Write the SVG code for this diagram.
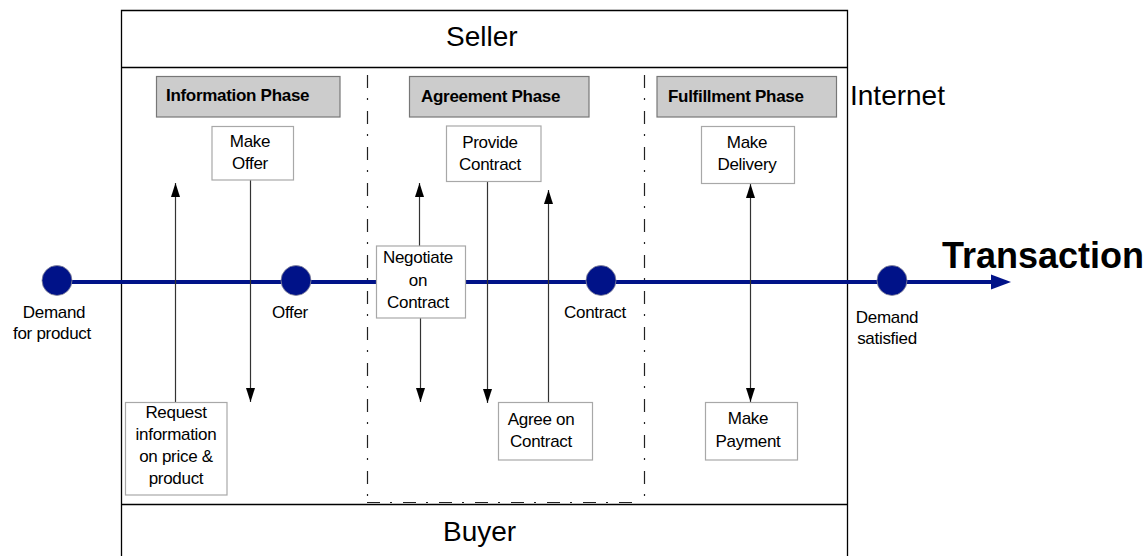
<svg xmlns="http://www.w3.org/2000/svg" width="1148" height="556" viewBox="0 0 1148 556">
<style>
  text { font-family: "Liberation Sans", Arial, sans-serif; fill: #000; }
  .lane { font-size: 28px; }
  .phase-t { font-size: 17px; font-weight: bold; letter-spacing: -0.3px; }
  .node-t { font-size: 17px; text-anchor: middle; letter-spacing: -0.3px; }
  .phase { fill: #cccccc; stroke: #777777; stroke-width: 1.2; }
  .box { fill: #ffffff; stroke: #a8a8a8; stroke-width: 1.2; }
  .frame { fill: none; stroke: #000; stroke-width: 1.3; }
  .divider { fill: none; stroke: #222; stroke-width: 1.2; stroke-dasharray: 13 10 2 11; }
  .conn { fill: none; stroke: #333; stroke-width: 1.2; }
  .dot { fill: #001288; stroke: #8a8a9a; stroke-width: 0.8; }
</style>
<defs>
  <marker id="arr" markerUnits="userSpaceOnUse" markerWidth="14" markerHeight="10" refX="14" refY="4.5" orient="auto-start-reverse" viewBox="0 0 14 9">
    <path d="M0,0 L14,4.5 L0,9 z" fill="#000"/>
  </marker>
</defs>
<rect width="1148" height="556" fill="#ffffff"/>

<!-- frame / swimlanes -->
<g id="frame">
  <path class="frame" d="M121.5,560 V10.5 H847.5 V560"/>
  <line class="frame" x1="121.5" y1="67.5" x2="847.5" y2="67.5"/>
  <line class="frame" x1="121.5" y1="504.5" x2="847.5" y2="504.5"/>
  <path class="divider" d="M367.5,75 V496"/>
  <path class="divider" d="M644.5,75 V496"/>
  <path class="divider" d="M367,502.5 H640"/>
</g>

<g id="lane-seller"><text class="lane" x="446" y="46">Seller</text></g>
<g id="lane-buyer"><text class="lane" x="443" y="541">Buyer</text></g>
<g id="lane-internet"><text class="lane" x="850" y="105">Internet</text></g>

<!-- phase headers -->
<g id="phase-information">
  <rect class="phase" x="156.5" y="76.5" width="183.5" height="40.5"/>
  <text class="phase-t" x="166" y="101">Information Phase</text>
</g>
<g id="phase-agreement">
  <rect class="phase" x="409.5" y="76.5" width="179.5" height="40.5"/>
  <text class="phase-t" x="421" y="101.5">Agreement Phase</text>
</g>
<g id="phase-fulfillment">
  <rect class="phase" x="657" y="76.5" width="179.5" height="40.5"/>
  <text class="phase-t" x="668" y="101.5">Fulfillment Phase</text>
</g>

<!-- transaction line -->
<g id="transaction">
  <line x1="57" y1="282" x2="995" y2="282" stroke="#001288" stroke-width="4"/>
  <polygon points="991,274.5 1011,282 991,289.5" fill="#001288"/>
  <text x="942" y="268" font-weight="bold" style="font-size:36px">Transaction</text>
</g>

<!-- connectors -->
<g id="connectors">
  <line class="conn" x1="175.5" y1="402" x2="175.5" y2="183" marker-end="url(#arr)"/>
  <line class="conn" x1="250.5" y1="180" x2="250.5" y2="402" marker-end="url(#arr)" stroke="#555"/>
  <line class="conn" x1="419.5" y1="246" x2="419.5" y2="183" marker-end="url(#arr)" stroke="#555"/>
  <line class="conn" x1="420.5" y1="318" x2="420.5" y2="402" marker-end="url(#arr)" stroke="#555"/>
  <line class="conn" x1="487.5" y1="181" x2="487.5" y2="403" marker-end="url(#arr)"/>
  <line class="conn" x1="548.5" y1="402" x2="548.5" y2="190" marker-end="url(#arr)"/>
  <line class="conn" x1="750.5" y1="184" x2="750.5" y2="402" marker-start="url(#arr)" marker-end="url(#arr)"/>
</g>

<!-- milestone dots -->
<g id="m-demand">
  <circle class="dot" cx="57" cy="280.5" r="15"/>
  <text class="node-t" x="54" y="318">Demand</text>
  <text class="node-t" x="52" y="339">for product</text>
</g>
<g id="m-offer">
  <circle class="dot" cx="296" cy="280.5" r="15"/>
  <text class="node-t" x="290" y="318">Offer</text>
</g>
<g id="m-contract">
  <circle class="dot" cx="601" cy="280.5" r="15"/>
  <text class="node-t" x="595" y="318">Contract</text>
</g>
<g id="m-satisfied">
  <circle class="dot" cx="892" cy="280.5" r="15"/>
  <text class="node-t" x="887" y="323">Demand</text>
  <text class="node-t" x="887" y="344">satisfied</text>
</g>

<!-- activity nodes -->
<g id="n-make-offer">
  <rect class="box" x="212" y="126.5" width="81.5" height="53.5"/>
  <text class="node-t" x="250" y="147">Make</text>
  <text class="node-t" x="250" y="169">Offer</text>
</g>
<g id="n-request">
  <rect class="box" x="125.5" y="402.5" width="101.5" height="92.5"/>
  <text class="node-t" x="176" y="418">Request</text>
  <text class="node-t" x="176" y="440">information</text>
  <text class="node-t" x="176" y="462">on price &amp;</text>
  <text class="node-t" x="176" y="484">product</text>
</g>
<g id="n-negotiate">
  <rect class="box" x="376.5" y="246" width="89" height="72"/>
  <text class="node-t" x="418" y="263">Negotiate</text>
  <text class="node-t" x="418" y="286">on</text>
  <text class="node-t" x="418" y="308">Contract</text>
</g>
<g id="n-provide">
  <rect class="box" x="446.5" y="126" width="94.5" height="55.5"/>
  <text class="node-t" x="490" y="148">Provide</text>
  <text class="node-t" x="490" y="170">Contract</text>
</g>
<g id="n-agree">
  <rect class="box" x="498.5" y="402.5" width="94" height="57.5"/>
  <text class="node-t" x="541" y="425">Agree on</text>
  <text class="node-t" x="541" y="447">Contract</text>
</g>
<g id="n-delivery">
  <rect class="box" x="701.5" y="126.5" width="93" height="57"/>
  <text class="node-t" x="747" y="148">Make</text>
  <text class="node-t" x="747" y="170">Delivery</text>
</g>
<g id="n-payment">
  <rect class="box" x="705.5" y="402.5" width="92" height="57.5"/>
  <text class="node-t" x="748" y="424">Make</text>
  <text class="node-t" x="748" y="447">Payment</text>
</g>
</svg>
